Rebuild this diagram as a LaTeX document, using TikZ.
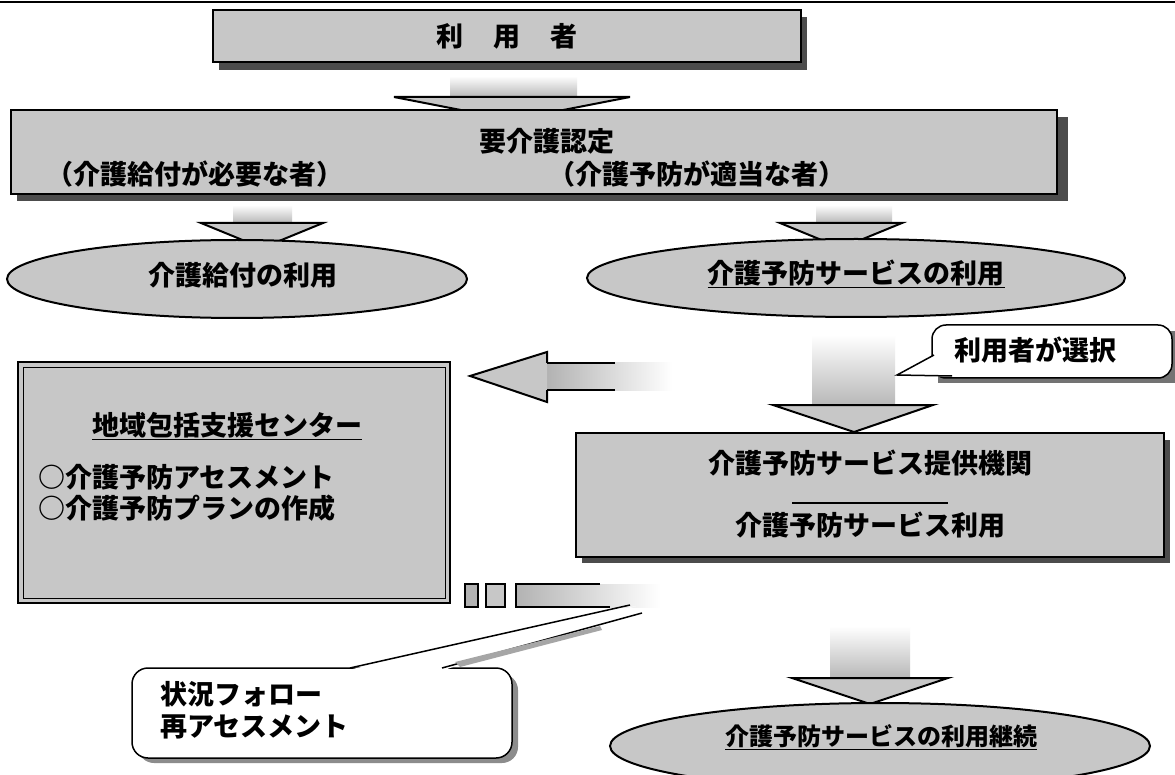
\documentclass[tikz,border=0pt]{standalone}
\usepackage{fontspec}
\setmainfont{Noto Sans CJK JP}
\usetikzlibrary{shapes.geometric,calc}
\newcommand\fsz[1]{\fontsize{#1}{#1}\selectfont}
\begin{document}
\begin{tikzpicture}[x=1pt,y=-1pt,
  font=\fsz{27}\bfseries,
  gbox/.style={draw=black, line width=1.4pt, fill=black!22, inner sep=0pt},
  shad/.style={fill=black!70},
  ell/.style={ellipse, draw=black, line width=2pt, fill=black!22, inner sep=0pt},
  callout/.style={draw=black, line width=1.5pt, fill=white},
  stem/.style={top color=white, bottom color=black!28},
  head/.style={draw=black, line width=2pt, fill=black!22, line join=miter},
  txt/.style={inner sep=0pt, anchor=center},
  ltxt/.style={inner sep=0pt, anchor=west}]
\useasboundingbox (0,0) rectangle (1175,775);
\fill[white] (0,0) rectangle (1175,775);
% top border of the scan
\draw[line width=2.5pt] (0,2) -- (1175,2);

% ---- user box
\fill[shad] (219,17) rectangle (807,70);
\node[gbox, minimum width=588pt, minimum height=52pt] (user) at (507,36) {};
\node[txt] (usert) at (user.center) {利\hspace{30pt}用\hspace{30pt}者};

% small arrow user -> care
\shade[stem] (450,76) rectangle (577,97);
\filldraw[head] (394,97) -- (630,97) -- (512,120) -- cycle;

% ---- care box
\fill[shad] (17,117) rectangle (1068,201);
\node[gbox, minimum width=1046pt, minimum height=84pt] (care) at (534,152) {};
\node[txt] (caret) at (547,141) {要介護認定};
\node[txt] (carel) at (195,174) {（介護給付が必要な者）};
\node[txt] (carer) at (697,174) {（介護予防が適当な者）};

% small arrows care -> ellipses
\shade[stem] (233,205) rectangle (292,223);
\filldraw[head] (201,223) -- (323,223) -- (262,248) -- cycle;
\shade[stem] (816,205) rectangle (892,223);
\filldraw[head] (780,223) -- (902,223) -- (841,248) -- cycle;

% ---- ellipses
\node[ell, minimum width=460pt, minimum height=78pt] (kyufu) at (237,279) {};
\node[txt] (kyufut) at (243,275) {介護給付の利用};
\node[ell, minimum width=538pt, minimum height=78pt] (yobo) at (856,278) {};
\node[txt] (yobot) at (856,274) {\underline{介護予防サービスの利用}};

% ---- down arrow yobo -> provider
\shade[stem] (812,335) rectangle (895,405);
\filldraw[head] (773,405) -- (812,405) -- (812,405) -- (895,405) -- (933,405) -- (854,432) -- cycle;

% ---- callout: user chooses
\fill[black!55] (938,331) rectangle (1175,383);
\draw[callout, rounded corners=14pt] (932,325) rectangle (1172,378);
\node[txt] (choose) at (1035,350) {利用者が選択};
\fill[white] (936,354) -- (897,375) -- (952,377) -- (952,370) -- cycle;
\draw[line width=1.5pt] (934,355) -- (897,375) -- (952,376);

% ---- left arrow towards centre
\shade[left color=black!30, right color=white] (547,363) rectangle (672,390);
\filldraw[head] (547,363) -- (547,352) -- (470,376) -- (547,402) -- (547,390);
\draw[line width=2pt] (547,363) -- (615,363);
\draw[line width=2pt] (547,390) -- (615,390);

% ---- centre box (double border)
\node[gbox, line width=2.6pt, minimum width=432pt, minimum height=241pt] (center) at (234,482.5) {};
\draw[line width=0.9pt] (23,367) rectangle (445,598);
\node[txt] (centert) at (227,426) {\underline{地域包括支援センター}};
\node[ltxt] (assess) at (38,477) {○介護予防アセスメント};
\node[ltxt] (plan) at (38,508) {○介護予防プランの作成};

% ---- provider box
\fill[shad] (582,440) rectangle (1170,563);
\node[gbox, minimum width=588pt, minimum height=124pt] (prov) at (870,495) {};
\node[txt] (provt) at (870,463) {介護予防サービス提供機関};
\draw[line width=1.2pt] (792,503) -- (948,503);
\node[txt] (provu) at (870,525) {介護予防サービス利用};

% ---- broken striped arrow below
\filldraw[draw=black, line width=1.6pt, fill=black!30] (465,584) rectangle (478,607);
\filldraw[draw=black, line width=1.6pt, fill=black!22] (486,584) rectangle (505,607);
\shade[left color=black!30, right color=white] (516,584) rectangle (660,607);
\draw[line width=1.6pt] (600,584) -- (516,584) -- (516,607) -- (610,607);

% ---- callout: follow-up
\fill[black!45] (138,674) [rounded corners=16pt] rectangle (518,763);
\draw[callout, rounded corners=16pt] (132,668) rectangle (512,758);
\fill[white] (348,670) -- (636,606) -- (444,670) -- cycle;
\draw[line width=1.5pt] (350,668) -- (630,605);
\draw[line width=1.5pt] (442,668) -- (642,613);
\fill[black!35] (455,662) -- (600,626) -- (602,630) -- (460,667) -- cycle;
\node[ltxt] (follow) at (160,694) {状況フォロー};
\node[ltxt] (reassess) at (160,727) {再アセスメント};

% ---- bottom down arrow
\shade[stem] (830,626) rectangle (910,678);
\filldraw[head] (792,678) -- (948,678) -- (870,704) -- cycle;

% ---- bottom ellipse
\node[ell, minimum width=540pt, minimum height=86pt] (cont) at (880,746) {};
\node[txt, font=\fsz{24}\bfseries] (contt) at (881,737) {\underline{介護予防サービスの利用継続}};
\end{tikzpicture}
\end{document}
